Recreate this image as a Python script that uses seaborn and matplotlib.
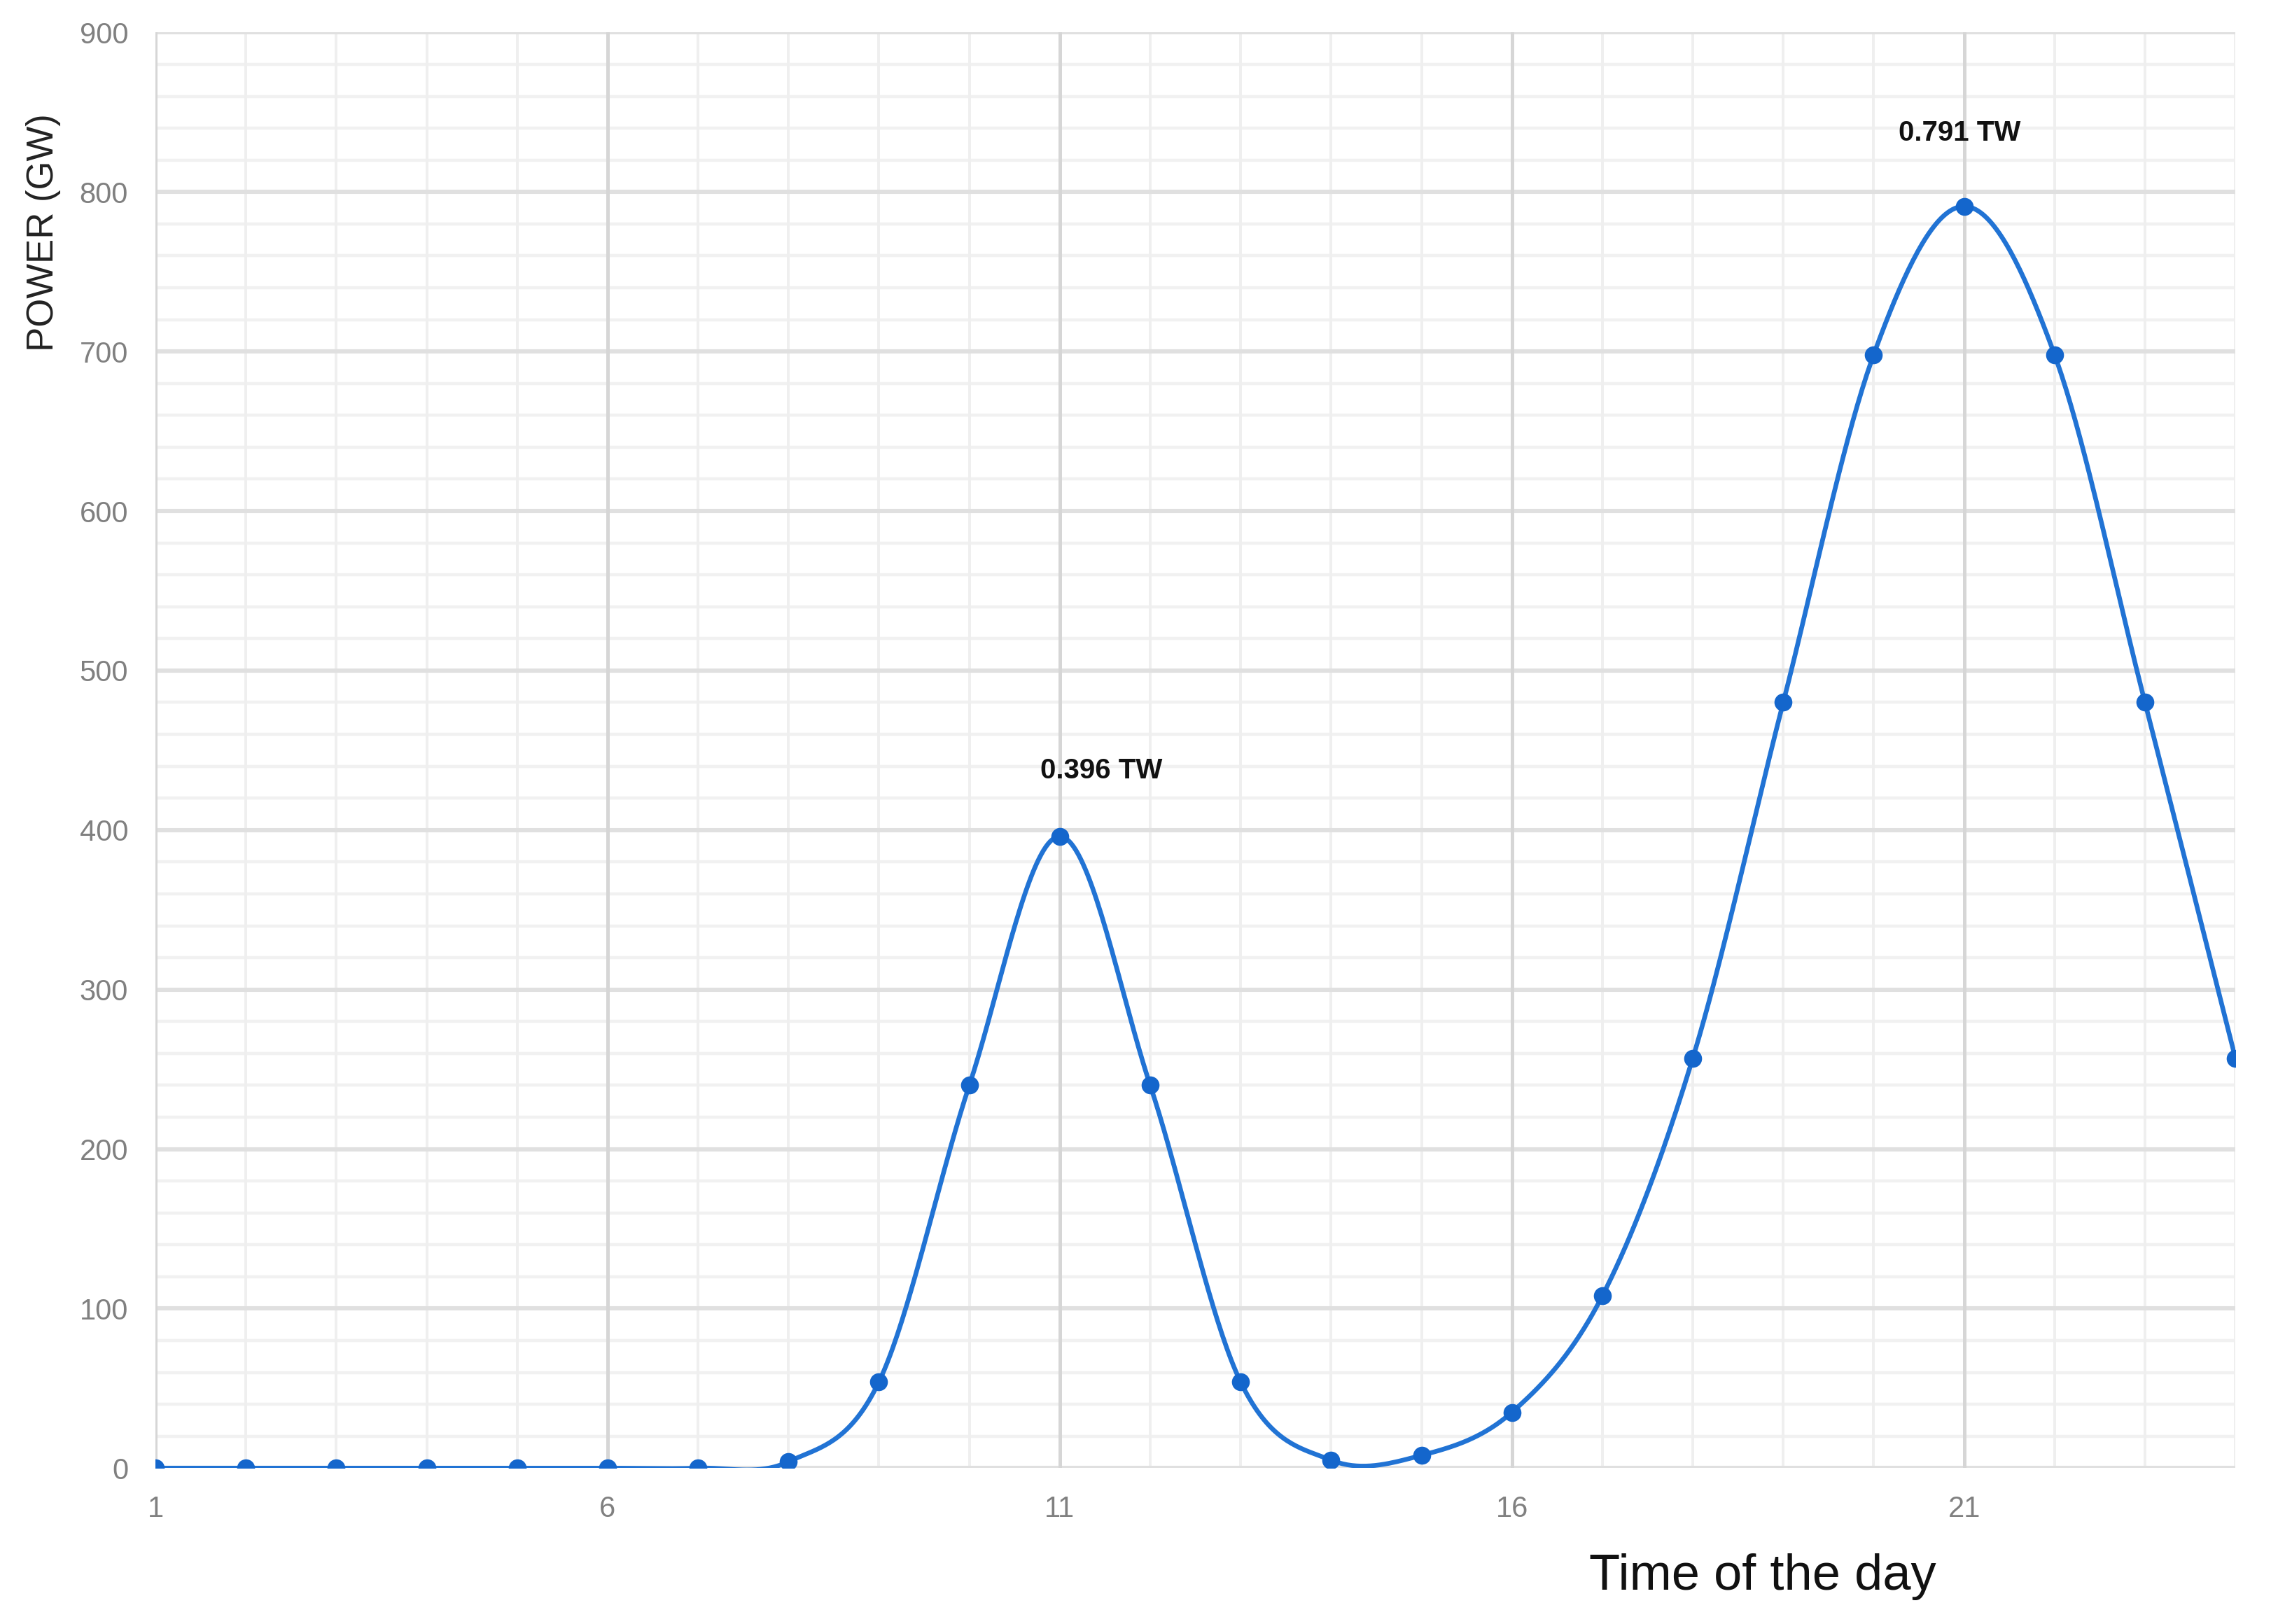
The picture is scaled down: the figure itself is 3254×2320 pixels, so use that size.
import numpy as np
import pandas as pd
import seaborn as sns
import matplotlib.pyplot as plt
from matplotlib import font_manager

# Hourly power demand (GW)
hours = list(range(1, 25))
power_gw = [0, 0, 0, 0, 0, 0, 0, 4, 54, 240, 396, 240, 54, 5, 8, 35,
            108, 257, 480, 698, 791, 698, 480, 257]
x_ticks = [1, 6, 11, 16, 21]
y_ticks = list(range(0, 901, 100))
peak_labels = ["0.396 TW", "0.791 TW"]

LINE_BLUE = "#2173d4"
MARK_BLUE = "#1466cc"


def smooth_line(xs, ys, steps=40):
    # Excel style smoothed line: Catmull-Rom through the points
    xs = np.asarray(xs, float)
    ys = np.asarray(ys, float)
    px = np.concatenate([[xs[0]], xs, [xs[-1]]])
    py = np.concatenate([[ys[0]], ys, [ys[-1]]])
    out_x, out_y = [], []
    t = np.linspace(0, 1, steps)
    for i in range(1, len(px) - 2):
        b0 = np.array([px[i], py[i]])
        b3 = np.array([px[i + 1], py[i + 1]])
        b1 = b0 + (np.array([px[i + 1], py[i + 1]]) - np.array([px[i - 1], py[i - 1]])) / 6
        b2 = b3 - (np.array([px[i + 2], py[i + 2]]) - np.array([px[i], py[i]])) / 6
        pts = ((1 - t) ** 3)[:, None] * b0 + (3 * (1 - t) ** 2 * t)[:, None] * b1 \
            + (3 * (1 - t) * t ** 2)[:, None] * b2 + (t ** 3)[:, None] * b3
        out_x.extend(pts[:, 0])
        out_y.extend(pts[:, 1])
    return out_x, out_y


df = pd.DataFrame({"hour": hours, "power": power_gw})
sx, sy = smooth_line(hours, power_gw)
curve = pd.DataFrame({"hour": sx, "power": sy})

sns.set_theme(style="white")
plt.rcParams["font.family"] = ["Liberation Sans", "DejaVu Sans"]
names = {f.name for f in font_manager.fontManager.ttflist}
narrow = "Liberation Sans Narrow" if "Liberation Sans Narrow" in names else "Liberation Sans"

fig = plt.figure(figsize=(16.275, 11.6), dpi=200)
ax = fig.add_axes([0.0682, 0.096, 0.9128, 0.884])

# grid: minor then major
for y in range(0, 901, 20):
    if y % 100:
        ax.axhline(y, color="#f1f1f1", lw=1.6, zorder=0)
for h in hours:
    if h not in x_ticks:
        ax.axvline(h, color="#efefef", lw=1.4, zorder=0)
for y in y_ticks:
    ax.axhline(y, color="#e0e0e0", lw=2.2, zorder=0.5)
for h in x_ticks:
    ax.axvline(h, color="#d6d6d6", lw=1.8, zorder=0.5)
ax.axvline(24, color="#efefef", lw=1.4, zorder=0)

sns.lineplot(data=curve, x="hour", y="power", ax=ax, color=LINE_BLUE,
             lw=2.4, sort=False, zorder=3)
sns.scatterplot(data=df, x="hour", y="power", ax=ax, color=MARK_BLUE,
                s=85, edgecolor=MARK_BLUE, linewidth=0, zorder=4)

ax.set_xlim(1, 24)
ax.set_ylim(0, 900)
ax.set_xticks(x_ticks)
ax.set_yticks(y_ticks)
ax.tick_params(length=0, labelsize=15, colors="#808080", pad=14)
for lbl in ax.get_xticklabels() + ax.get_yticklabels():
    lbl.set_family(narrow)
for s in ax.spines.values():
    s.set_visible(False)
ax.set_xlabel("")
ax.set_ylabel("")

# peak annotations
ax.text(11.46, 437, peak_labels[0], ha="center", va="center",
        fontsize=14.5, fontweight="bold", color="#111111")
ax.text(20.95, 837, peak_labels[1], ha="center", va="center",
        fontsize=14.5, fontweight="bold", color="#111111")

fig.text(62 / 3255, 1 - 332 / 2320, "POWER (GW)", rotation=90, ha="center",
         va="center", fontsize=19, color="#222222")
fig.text(2518 / 3255, 1 - 2252 / 2320, "Time of the day", ha="center",
         va="center", fontsize=26, color="#111111", family=narrow)

fig.savefig("out.png", dpi=200, facecolor="white")
